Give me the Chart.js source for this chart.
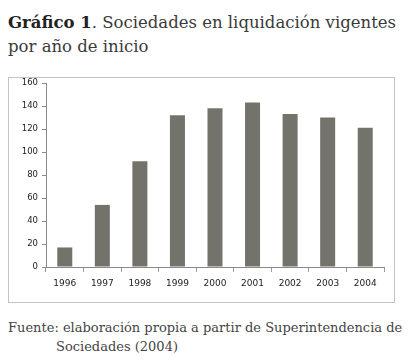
<!DOCTYPE html>
<html>
<head>
<meta charset="utf-8">
<script src="https://cdn.jsdelivr.net/npm/chart.js@4"></script>
<style>
  body { margin: 0; background: #fff; width: 409px; height: 363px; overflow: hidden; position: relative; }
  .titulo { position: absolute; left: 8px; top: 11px; font-family: "DejaVu Serif", serif; font-size: 16.5px; line-height: 24px; color: #3a3a3a; white-space: nowrap; }
  .titulo b { color: #222; }
  .caja { position: absolute; left: 8px; top: 77px; width: 385px; height: 224px; border: 1px solid #c4c4c4; }
  .caja canvas { position: absolute; left: 0; top: -6px; }
  .fuente { position: absolute; left: 8px; top: 318px; font-family: "DejaVu Serif", serif; font-size: 13px; line-height: 19px; color: #444; white-space: nowrap; }
  .fuente span { display: block; padding-left: 48px; }
</style>
</head>
<body>
<div class="titulo"><b>Gráfico 1</b>. Sociedades en liquidación vigentes<br>por año de inicio</div>
<div class="caja"><canvas id="grafico" width="385" height="230"></canvas></div>
<div class="fuente">Fuente: elaboración propia a partir de Superintendencia de<span>Sociedades (2004)</span></div>
<script>
// datos
const anios = ['1996', '1997', '1998', '1999', '2000', '2001', '2002', '2003', '2004'];
const sociedades = [17, 54, 92, 132, 138, 143, 133, 130, 121];
const ticksY = [0, 20, 40, 60, 80, 100, 120, 140, 160];

var ctx = document.getElementById('grafico').getContext('2d');

var config = {
  type: 'bar',
  data: {
    labels: anios,
    datasets: [{
      label: 'Sociedades',
      data: sociedades,
      backgroundColor: '#74736b',
      barPercentage: 0.4,
      categoryPercentage: 1
    }]
  },
  options: {
    responsive: false,
    animation: false,
    layout: { padding: { top: 11, right: 10, left: 0, bottom: 0 } },
    plugins: { legend: { display: false }, tooltip: { enabled: false } },
    scales: {
      x: {
        grid: { display: true, drawOnChartArea: false, offset: true, tickLength: 5, color: '#9a9a9a' },
        border: { color: '#8a8a8a' },
        ticks: { color: '#222', font: { family: 'DejaVu Sans', size: 9 }, padding: 6, maxRotation: 0 },
        afterFit: function(scale) { scale.height = 35; }
      },
      y: {
        min: 0,
        max: 160,
        afterBuildTicks: function(scale) { scale.ticks = ticksY.map(v => ({ value: v })); },
        grid: { display: true, drawOnChartArea: false, tickLength: 4, color: '#8a8a8a' },
        border: { color: '#8a8a8a' },
        ticks: { color: '#222', font: { family: 'DejaVu Sans', size: 8.5 }, padding: 4 },
        afterFit: function(scale) { scale.width = 37; scale.paddingTop = 0; scale.paddingBottom = 0; }
      }
    }
  }
};

var chart = new Chart(ctx, config);
</script>
</body>
</html>
